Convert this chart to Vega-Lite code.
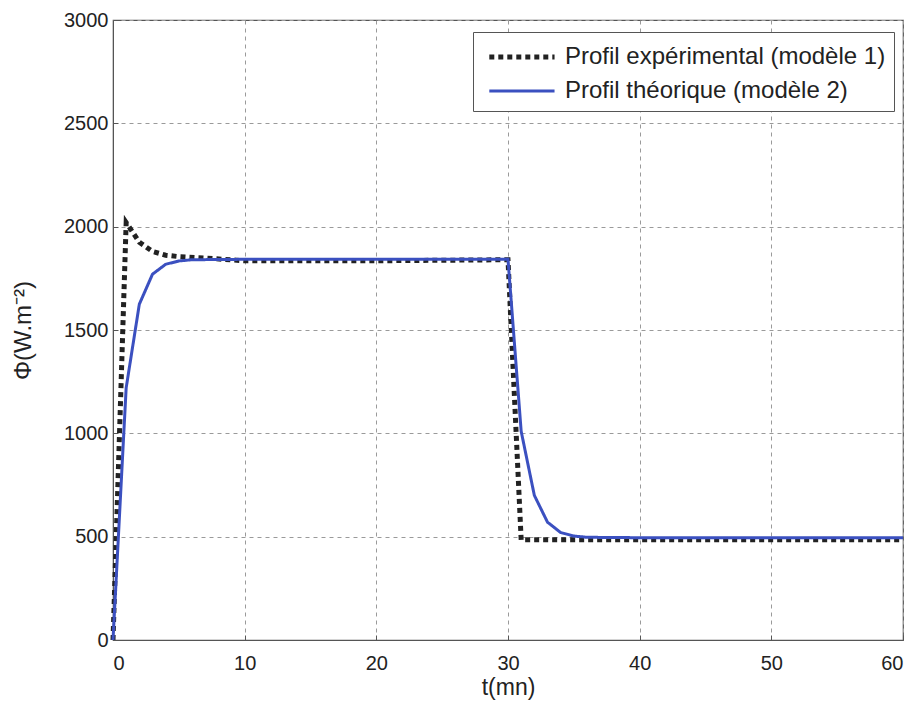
{
  "$schema": "https://vega.github.io/schema/vega-lite/v6.json",
  "width": 790,
  "height": 620,
  "autosize": {"type": "none"},
  "padding": {"left": 113, "top": 20, "right": 19, "bottom": 67},
  "background": "white",
  "config": {
    "font": "Liberation Sans",
    "view": {"stroke": "#555", "strokeWidth": 1.2}
  },
  "data": {
    "values": [
      {"t": 0, "phi": 0, "s": "Profil expérimental (modèle 1)"},
      {"t": 1, "phi": 2020, "s": "Profil expérimental (modèle 1)"},
      {"t": 2, "phi": 1925, "s": "Profil expérimental (modèle 1)"},
      {"t": 3, "phi": 1880, "s": "Profil expérimental (modèle 1)"},
      {"t": 4, "phi": 1862, "s": "Profil expérimental (modèle 1)"},
      {"t": 5, "phi": 1855, "s": "Profil expérimental (modèle 1)"},
      {"t": 7, "phi": 1848, "s": "Profil expérimental (modèle 1)"},
      {"t": 10, "phi": 1835, "s": "Profil expérimental (modèle 1)"},
      {"t": 20, "phi": 1835, "s": "Profil expérimental (modèle 1)"},
      {"t": 30, "phi": 1840, "s": "Profil expérimental (modèle 1)"},
      {"t": 31, "phi": 485, "s": "Profil expérimental (modèle 1)"},
      {"t": 40, "phi": 485, "s": "Profil expérimental (modèle 1)"},
      {"t": 60, "phi": 485, "s": "Profil expérimental (modèle 1)"},
      {"t": 0, "phi": 0, "s": "Profil théorique (modèle 2)"},
      {"t": 1, "phi": 1220, "s": "Profil théorique (modèle 2)"},
      {"t": 2, "phi": 1625, "s": "Profil théorique (modèle 2)"},
      {"t": 3, "phi": 1770, "s": "Profil théorique (modèle 2)"},
      {"t": 4, "phi": 1818, "s": "Profil théorique (modèle 2)"},
      {"t": 5, "phi": 1834, "s": "Profil théorique (modèle 2)"},
      {"t": 6, "phi": 1840, "s": "Profil théorique (modèle 2)"},
      {"t": 10, "phi": 1842, "s": "Profil théorique (modèle 2)"},
      {"t": 20, "phi": 1842, "s": "Profil théorique (modèle 2)"},
      {"t": 30, "phi": 1842, "s": "Profil théorique (modèle 2)"},
      {"t": 31, "phi": 1010, "s": "Profil théorique (modèle 2)"},
      {"t": 32, "phi": 700, "s": "Profil théorique (modèle 2)"},
      {"t": 33, "phi": 570, "s": "Profil théorique (modèle 2)"},
      {"t": 34, "phi": 520, "s": "Profil théorique (modèle 2)"},
      {"t": 35, "phi": 503, "s": "Profil théorique (modèle 2)"},
      {"t": 36, "phi": 497, "s": "Profil théorique (modèle 2)"},
      {"t": 40, "phi": 495, "s": "Profil théorique (modèle 2)"},
      {"t": 60, "phi": 495, "s": "Profil théorique (modèle 2)"}
    ]
  },
  "mark": {"type": "line", "strokeCap": "butt"},
  "encoding": {
    "x": {
      "field": "t", "type": "quantitative", "title": "t(mn)",
      "scale": {"domain": [0, 60], "nice": false},
      "axis": {
        "values": [0, 10, 20, 30, 40, 50, 60], "format": "d",
        "grid": true, "gridDash": [4, 4], "gridColor": "#9a9a9a",
        "domainColor": "#555", "tickColor": "#555", "tickSize": -5,
        "labelFontSize": 20, "labelColor": "#222", "labelPadding": 18,
        "titleFontSize": 23, "titleFontWeight": "normal", "titleColor": "#222", "titlePadding": 3
      }
    },
    "y": {
      "field": "phi", "type": "quantitative", "title": "Φ(W.m⁻²)",
      "scale": {"domain": [0, 3000], "nice": false},
      "axis": {
        "values": [0, 500, 1000, 1500, 2000, 2500, 3000], "format": "d",
        "grid": true, "gridDash": [4, 4], "gridColor": "#9a9a9a",
        "domainColor": "#555", "tickColor": "#555", "tickSize": -5,
        "labelFontSize": 20, "labelColor": "#222", "labelPadding": 10,
        "titleFontSize": 24, "titleFontWeight": "normal", "titleColor": "#222", "titlePadding": 28
      }
    },
    "color": {
      "field": "s", "type": "nominal",
      "scale": {"domain": ["Profil expérimental (modèle 1)", "Profil théorique (modèle 2)"], "range": ["#222222", "#3b50c0"]},
      "legend": {
        "title": null,
        "orient": "none",
        "legendX": 360,
        "legendY": 12,
        "fillColor": "white",
        "strokeColor": "#555",
        "padding": 8,
        "labelFontSize": 24,
        "labelColor": "#222",
        "labelLimit": 500,
        "symbolType": "M-0.6,0L3.9,0",
        "symbolSize": 841,
        "symbolStrokeWidth": 4,
        "rowPadding": 6,
        "labelOffset": 50,
        "offset": 0
      }
    },
    "strokeDash": {
      "field": "s", "type": "nominal",
      "scale": {"domain": ["Profil expérimental (modèle 1)", "Profil théorique (modèle 2)"], "range": [[5, 4], [1, 0]]},
      "legend": null
    },
    "strokeWidth": {
      "field": "s", "type": "nominal",
      "scale": {"domain": ["Profil expérimental (modèle 1)", "Profil théorique (modèle 2)"], "range": [5, 3]},
      "legend": null
    }
  }
}
